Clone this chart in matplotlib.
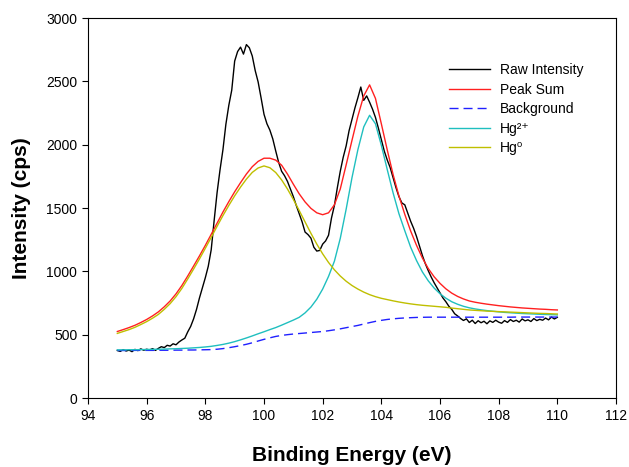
import numpy as np
import matplotlib
matplotlib.use("Agg")
import matplotlib.pyplot as plt

plt.rcParams['font.family'] = ['Liberation Sans', 'DejaVu Sans']

# Hg 4f region, raw counts every 0.1 eV, fitted curves every 0.2 eV
energy_raw = np.round(np.arange(95.0, 110.05, 0.1), 1)
energy_fit = np.round(np.arange(95.0, 110.05, 0.2), 1)

raw_intensity = [
    375, 368, 382, 371, 378, 366, 384, 374, 388, 377,
    385, 379, 390, 376, 392, 405, 398, 416, 410, 428,
    420, 442, 458, 472, 522, 565, 625, 700, 790, 870,
    950, 1040, 1170, 1400, 1620, 1800, 1960, 2160, 2310, 2430,
    2660, 2735, 2770, 2715, 2790, 2765, 2700, 2585, 2495, 2370,
    2240, 2165, 2115, 2045, 1950, 1860, 1790, 1755, 1710, 1650,
    1590, 1520, 1455, 1390, 1310, 1290, 1262, 1190, 1160, 1165,
    1215, 1240, 1285, 1420, 1520, 1660, 1790, 1900, 1990, 2110,
    2200, 2290, 2370, 2455, 2350, 2385, 2335, 2280, 2215, 2130,
    2040, 1950, 1880, 1820, 1740, 1660, 1590, 1540, 1525, 1460,
    1395, 1340, 1275, 1200, 1125, 1060, 1005, 955, 910, 870,
    830, 790, 760, 725, 700, 665, 648, 628, 612, 625,
    596, 614, 588, 610, 594, 606, 586, 609, 597, 614,
    599, 590, 611, 597, 619, 604, 614, 599, 624, 609,
    617, 604, 627, 611, 621, 614, 631, 617, 639, 624,
    637,
]

peak_sum = [
    525, 540, 556, 574, 596, 620, 648, 680, 720, 766,
    822, 888, 963, 1042, 1122, 1205, 1292, 1380, 1468, 1550,
    1628, 1700, 1768, 1826, 1868, 1893, 1893, 1878, 1838, 1768,
    1688, 1612, 1548, 1497, 1462, 1447, 1462, 1525, 1650, 1840,
    2035, 2225, 2385, 2472, 2365, 2165, 1960, 1765, 1595, 1450,
    1318, 1205, 1105, 1022, 957, 905, 862, 828, 802, 782,
    766, 756, 748, 741, 735, 729, 724, 719, 715, 711,
    708, 705, 702, 700, 697, 695,
]

background = [
    375, 375, 375, 376, 376, 376, 376, 377, 377, 377,
    378, 378, 379, 379, 380, 381, 382, 385, 390, 397,
    405, 414, 424, 436, 450, 463, 475, 486, 494, 500,
    505, 509, 513, 517, 521, 525, 531, 538, 546, 555,
    564, 573, 584, 595, 605, 613, 620, 625, 629, 632,
    634, 636, 637, 638, 638, 638, 638, 638, 638, 638,
    638, 638, 638, 638, 638, 638, 638, 638, 639, 639,
    639, 639, 639, 639, 639, 639,
]

hg2 = [
    380, 380, 381, 381, 382, 383, 384, 385, 386, 388,
    389, 391, 393, 396, 399, 403, 408, 415, 423, 433,
    445, 459, 474, 490, 507, 523, 540, 556, 575, 595,
    615, 637, 672, 718, 780, 860, 960, 1080, 1260, 1490,
    1740, 1960, 2140, 2232, 2165, 1995, 1805, 1620, 1455, 1320,
    1190, 1085, 995, 925, 868, 823, 788, 760, 740, 724,
    712, 703, 696, 690, 685, 680, 676, 673, 670, 667,
    665, 663, 661, 659, 658, 656,
]

hg0 = [
    510, 525, 540, 558, 580, 603, 630, 660, 700, 745,
    800, 865, 940, 1018, 1098, 1182, 1268, 1355, 1440, 1520,
    1596, 1665, 1728, 1781, 1816, 1832, 1818, 1780, 1722, 1650,
    1568, 1480, 1390, 1300, 1215, 1138, 1070, 1012, 963, 922,
    888, 860, 836, 816, 800, 787, 777, 767, 758, 750,
    743, 737, 732, 728, 724, 720, 716, 710, 705, 700,
    695, 692, 689, 686, 684, 682, 680, 678, 676, 674,
    672, 670, 668, 667, 665, 663,
]

fig = plt.figure(figsize=(6.29, 4.67), dpi=100)
ax = fig.add_axes([88 / 629, 69 / 467, 528 / 629, 380 / 467])

ax.plot(energy_raw, raw_intensity, color='black', lw=1.0, label='Raw Intensity')
ax.plot(energy_fit, peak_sum, color='#ff2020', lw=1.0, label='Peak Sum')
ax.plot(energy_fit, background, color='#2020ff', lw=1.0, dashes=(6.5, 3.6), label='Background')
ax.plot(energy_fit, hg2, color='#1fbfbf', lw=1.0, label='Hg²⁺')
ax.plot(energy_fit, hg0, color='#bfbf00', lw=1.0, label='Hg⁰')

ax.set_xlim(94, 112)
ax.set_ylim(0, 3000)
ax.set_xticks(range(94, 113, 2))
ax.set_yticks(range(0, 3001, 500))
ax.tick_params(direction='out', length=4.2, width=0.8, top=False, right=False, labelsize=10)
for s in ax.spines.values():
    s.set_linewidth(0.8)

ax.set_xlabel('Binding Energy (eV)', fontsize=15, fontweight='bold', labelpad=17)
ax.set_ylabel('Intensity (cps)', fontsize=15, fontweight='bold', labelpad=11)

ax.legend(loc='upper left', bbox_to_anchor=(0.670, 0.90), frameon=False, fontsize=10,
          borderpad=0, handlelength=3.0, handletextpad=0.7, labelspacing=0.4)

fig.savefig('out.png', dpi=100)
